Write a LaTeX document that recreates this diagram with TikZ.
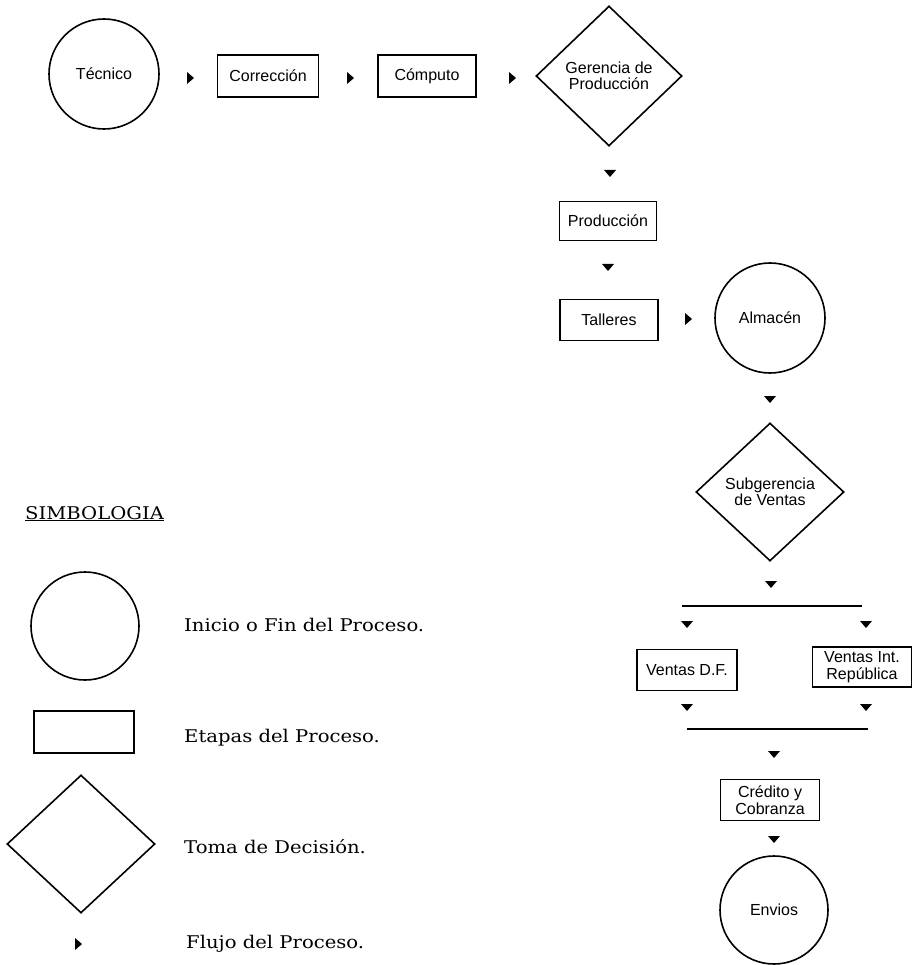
\documentclass[tikz,border=0pt]{standalone}
\usepackage{fontspec}
\setmainfont{DejaVu Serif}[FakeStretch=1.12]
\newfontfamily\sansf{Liberation Sans}
\usetikzlibrary{shapes.geometric}
\tikzset{
  x=1pt, y=-1pt,
  outl/.style={draw, line width=1.6pt},
  stepbox/.style={outl, rectangle, inner sep=0pt, font=\sansf\fontsize{16}{16.5}\selectfont, align=center},
  endcirc/.style={outl, circle, inner sep=0pt, font=\sansf\fontsize{16}{16.5}\selectfont, align=center},
  decis/.style={outl, diamond, inner sep=0pt, font=\sansf\fontsize{16}{16.5}\selectfont, align=center},
  legtext/.style={anchor=base west, inner sep=0pt, font=\fontsize{17.5}{20}\selectfont},
  bar/.style={line width=1.8pt},
  rtri/.pic={\fill (-3,-6) -- (4,0) -- (-3,6) -- cycle;},
  dtri/.pic={\fill (-6,-3) -- (6,-3) -- (0,4) -- cycle;}
}
\begin{document}
\begin{tikzpicture}
\useasboundingbox (0,0) rectangle (913,965);
% main flow
\node[endcirc, minimum size=110pt] (tecnico) at (104,74) {Técnico};
\node[stepbox, minimum width=101pt, minimum height=42pt] (correccion) at (268,76) {Corrección};
\node[stepbox, minimum width=98pt, minimum height=42pt] (computo) at (427,76) {Cómputo};
\node[decis, minimum width=146pt, minimum height=140pt] (gerencia) at (609,76) {Gerencia de\\Producción};
\node[stepbox, minimum width=97pt, minimum height=39pt] (produccion) at (608,221) {Producción};
\node[stepbox, minimum width=98pt, minimum height=41pt] (talleres) at (609,320) {Talleres};
\node[endcirc, minimum size=110pt] (almacen) at (770,318) {Almacén};
\node[decis, minimum width=148pt, minimum height=138pt] (subgerencia) at (770,492) {Subgerencia\\de Ventas};
\coordinate (b1l) at (682,606);
\coordinate (b1r) at (862,606);
\draw[bar] (b1l) -- (b1r);
\node[stepbox, minimum width=100pt, minimum height=41pt] (ventasdf) at (687,670) {Ventas D.F.};
\node[stepbox, minimum width=99pt, minimum height=40pt] (ventasint) at (862,667) {Ventas Int.\\República};
\coordinate (b2l) at (687,729);
\coordinate (b2r) at (868,729);
\draw[bar] (b2l) -- (b2r);
\node[stepbox, minimum width=99pt, minimum height=41pt] (credito) at (770,800) {Crédito y\\Cobranza};
\node[endcirc, minimum size=108pt] (envios) at (774,910) {Envios};
% flow markers
\pic at (190,78) {rtri};
\pic at (350,78) {rtri};
\pic at (512,78) {rtri};
\pic at (688,319) {rtri};
\pic at (610,173) {dtri};
\pic at (608,267) {dtri};
\pic at (770,399) {dtri};
\pic at (771,584) {dtri};
\pic at (687,624) {dtri};
\pic at (866,624) {dtri};
\pic at (687,707) {dtri};
\pic at (866,707) {dtri};
\pic at (774,754) {dtri};
\pic at (774,839) {dtri};
% legend
\node[legtext] (simb) at (25,519) {\underline{SIMBOLOGIA}};
\node[outl, circle, minimum size=108pt, inner sep=0pt] (lcirc) at (85,626) {};
\node[legtext] (linicio) at (184,631) {Inicio o Fin del Proceso.};
\node[outl, rectangle, minimum width=100pt, minimum height=42pt, inner sep=0pt] (lrect) at (84,732) {};
\node[legtext] (letapas) at (184,742) {Etapas del Proceso.};
\node[outl, diamond, minimum width=148pt, minimum height=138pt, inner sep=0pt] (ldiam) at (81,844) {};
\node[legtext] (ltoma) at (184,853) {Toma de Decisión.};
\pic at (78,944) {rtri};
\node[legtext] (lflujo) at (186,948) {Flujo del Proceso.};
\end{tikzpicture}
\end{document}
